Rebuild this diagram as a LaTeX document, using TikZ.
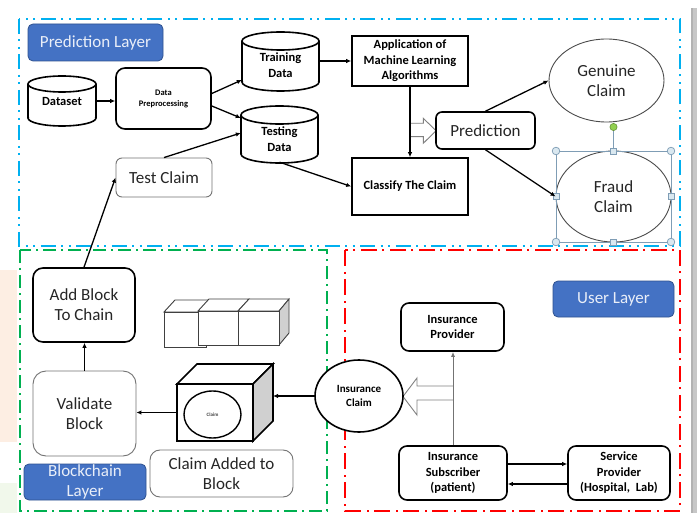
\documentclass[tikz,border=0pt]{standalone}
\usepackage{fontspec}
\setmainfont{Carlito}
\usetikzlibrary{arrows.meta,shapes.geometric,calc}
\definecolor{predblue}{HTML}{00B0F0}
\definecolor{chaingreen}{HTML}{00B050}
\definecolor{userred}{HTML}{FF0000}
\definecolor{labelblue}{HTML}{4472C4}
\definecolor{labeledge}{HTML}{2F528F}
\definecolor{handlefill}{HTML}{DAE8F0}
\definecolor{handleedge}{HTML}{7F9DB5}
\definecolor{sidegray}{HTML}{D0D0D0}
\definecolor{blobor}{HTML}{FDEEE3}
\definecolor{blobgr}{HTML}{F1F8EB}
\definecolor{handlegreen}{HTML}{92D050}
\tikzset{
  frame/.style={line width=1.8pt},
  dashdotdot/.style={dash pattern=on 15pt off 5.5pt on 2pt off 5.5pt on 2pt off 5.5pt},
  reddashdot/.style={dash pattern=on 16pt off 6pt on 2pt off 5pt},
  greendashdot/.style={dash pattern=on 13pt off 5pt on 2pt off 5pt},
  thickbox/.style={draw=black, line width=1.6pt, fill=white, align=center, inner sep=0pt},
  thinbox/.style={draw=black!55, line width=0.9pt, fill=white, rounded corners=10pt, align=center, inner sep=0pt, text=black!85, font=\fontsize{17}{20}\selectfont},
  layerlabel/.style={fill=labelblue, draw=labeledge, line width=0.8pt, rounded corners=5pt, text=white!88!labelblue, font=\fontsize{17}{20}\selectfont, align=center, inner sep=0pt},
  bigtext/.style={font=\fontsize{17}{20}\selectfont, text=black!85},
  boldtext/.style={font=\fontsize{12.5}{15.5}\selectfont\bfseries},
  plain/.style={inner sep=0pt, align=center},
  arr/.style={line width=1.3pt, -{Latex[length=5pt,width=4.5pt]}},
  cylline/.style={line width=1.6pt},
  hollow/.style={draw=black!50, line width=0.9pt, fill=white},
  handle/.style={draw=handleedge, line width=0.7pt},
}
\newcommand\drawcyl[5]{%
  \pgfmathsetmacro\cylcx{(#1+#3)/2}%
  \pgfmathsetmacro\cylrx{(#3-#1)/2}%
  \fill[white] (#1,#2+#5) rectangle (#3,#4-#5);
  \fill[white] (\cylcx,#4-#5) ellipse[x radius=\cylrx pt, y radius=#5 pt];
  \begin{scope}
    \clip (#1-3,#4-#5) rectangle (#3+3,#4+3);
    \draw[cylline] (\cylcx,#4-#5) ellipse[x radius=\cylrx pt, y radius=#5 pt];
  \end{scope}
  \draw[cylline] (#1,#2+#5) -- (#1,#4-#5) (#3,#2+#5) -- (#3,#4-#5);
  \draw[cylline, fill=white] (\cylcx,#2+#5) ellipse[x radius=\cylrx pt, y radius=#5 pt];
}
\begin{document}
\begin{tikzpicture}[x=1pt,y=-1pt]
\useasboundingbox (0,0) rectangle (699,513);
\fill[white] (0,0) rectangle (699,513);
% background artefacts
\fill[blobor] (0,270) rectangle (17,442);
\fill[blobgr] (0,483) rectangle (17,513);
\fill[black!22] (691,8) rectangle (697,513);
\fill[black!30] (691,8) rectangle (692.5,513);

% layer frames
\draw[frame, predblue, dashdotdot] (19,19) rectangle (680,246);
\draw[frame, chaingreen, greendashdot] (20,250) rectangle (327,511);
\draw[frame, userred, reddashdot] (345,250) rectangle (680,511);

% ---------------- Prediction layer ----------------
\node[layerlabel, minimum width=135pt, minimum height=37pt] (predlabel) at (95.5,42.5) {Prediction Layer};

\drawcyl{28}{76}{96}{126}{8}
\node[plain, boldtext, minimum width=68pt, minimum height=36pt] (dataset) at (62,101) {Dataset};

\node[thickbox, rounded corners=9pt, minimum width=95pt, minimum height=61pt,
      font=\fontsize{8.5}{11}\selectfont\bfseries] (prep) at (163.5,98.5) {Data\\Preprocessing};

\drawcyl{242}{32}{319}{91}{9}
\node[plain, boldtext, minimum width=77pt, minimum height=40pt] (training) at (280.5,65) {Training\\Data};

\drawcyl{241}{106}{318}{163}{9}
\node[plain, boldtext, minimum width=77pt, minimum height=40pt] (testing) at (279.5,139) {Testing\\Data};

\node[thinbox, rounded corners=6pt, minimum width=96pt, minimum height=39pt] (testclaim) at (164,177.5) {Test Claim};

\node[thickbox, boldtext, minimum width=116pt, minimum height=50pt] (app) at (410,61) {Application of\\Machine Learning\\Algorithms};
\node[thickbox, boldtext, minimum width=116pt, minimum height=57pt] (classify) at (410,186.5) {Classify The Claim};

% hollow arrow into Prediction
\draw[hollow] (411,123.3) -- (423.3,123.3) -- (423.3,118.3) -- (436,130.7) -- (423.3,143.3) -- (423.3,136.7) -- (411,136.7);

\node[thickbox, bigtext, rounded corners=6pt, minimum width=99pt, minimum height=37pt] (prediction) at (485.5,130.5) {Prediction};

\node[ellipse, draw=black!70, line width=0.9pt, fill=white, bigtext, align=center, inner sep=0pt,
      minimum width=115pt, minimum height=83pt] (genuine) at (606.5,80.5) {Genuine\\Claim};
\node[ellipse, draw=black!70, line width=0.9pt, fill=white, bigtext, align=center, inner sep=0pt,
      minimum width=115pt, minimum height=91pt] (fraud) at (613.5,196.5) {Fraud\\Claim};

% selection handles around Fraud Claim
\draw[handle] (556,151) rectangle (671,242);
\draw[handle] (613.5,127) -- (613.5,151);
\foreach \hx/\hy in {556/151,671/151,556/242,671/242}
  \draw[handle, fill=handlefill] (\hx,\hy) circle[radius=3.8pt];
\foreach \hx/\hy in {613.5/151,556/196.5,671/196.5,613.5/242}
  \draw[handle, fill=handlefill] (\hx-3,\hy-3) rectangle (\hx+3,\hy+3);
\draw[draw=handlegreen!70!black, line width=0.6pt, fill=handlegreen] (613.5,127) circle[radius=3.6pt];

% prediction-layer connectors
\draw[arr] (dataset.east) -- (dataset.east -| prep.west);
\draw[arr] ([yshift=5pt]prep.east) -- ([yshift=-15pt]training.west);
\draw[arr] ([yshift=-7.5pt]prep.east) -- ([yshift=21pt]testing.west);
\draw[arr] (testclaim.north) -- ([yshift=6pt]testing.west);
\draw[arr] ([yshift=4pt]training.east) -- (app.west);
\draw[arr] ([yshift=-3pt]testing.south) -- (classify.west);
\draw[arr] (app.south) -- (classify.north);
\draw[arr] (prediction.north) -- (genuine.west);
\draw[arr] (prediction.south) -- (fraud.west);

% ---------------- Blockchain layer ----------------
\node[thickbox, bigtext, rounded corners=10pt, minimum width=102pt, minimum height=74pt] (addblock) at (84,305) {Add Block\\To Chain};
\node[thinbox, rounded corners=13pt, minimum width=103pt, minimum height=85pt] (validate) at (84.5,413.5) {Validate\\Block};
\node[layerlabel, minimum width=122pt, minimum height=36pt] (bclabel) at (85,482) {Blockchain\\Layer};
\node[thinbox, minimum width=143pt, minimum height=47pt] (claimadded) at (221.5,473.5) {Claim Added to\\Block};

% chain of small blocks
\begin{scope}[draw=black!75, line width=0.9pt]
  \filldraw[fill=white] (164,312) -- (175,300) -- (217,300) -- (206,312) -- cycle;
  \filldraw[fill=white] (164,312) rectangle (206,347);
  \filldraw[fill=white] (198,311) -- (209,299) -- (249,299) -- (238,311) -- cycle;
  \filldraw[fill=white] (198,311) rectangle (238,345);
  \filldraw[fill=white] (238,311) -- (249,299) -- (289,299) -- (279,311) -- cycle;
  \filldraw[fill=sidegray] (279,311) -- (289,299) -- (289,333) -- (279,345) -- cycle;
  \filldraw[fill=white] (238,311) rectangle (279,345);
\end{scope}

% big block holding the claim
\filldraw[fill=white, line width=1.6pt, line join=miter] (177,384) -- (197,364) -- (273,364) -- (253,384) -- cycle;
\filldraw[fill=sidegray, line width=1.6pt, line join=miter] (253,384) -- (273,364) -- (273,421) -- (253,441) -- cycle;
\node[thickbox, minimum width=76pt, minimum height=57pt] (cube) at (215,412.5) {};
\coordinate (cubeside) at (273,396);
\node[ellipse, draw, line width=1.4pt, fill=white, inner sep=0pt, minimum width=57pt, minimum height=47pt,
      font=\fontsize{5}{6}\selectfont\bfseries, text=black!75] (claimell) at (212.5,414.5) {Claim};

\draw[arr] (validate.north) -- (validate.north |- addblock.south);
\draw[arr] (addblock.north) -- (testclaim.west);
\draw[arr] (cube.west) -- (validate.east |- cube.west);

% ---------------- User layer ----------------
\node[layerlabel, minimum width=121pt, minimum height=36pt] (userlabel) at (613.5,299) {User Layer};
\node[thickbox, boldtext, rounded corners=8pt, minimum width=103pt, minimum height=48pt] (provider) at (452.5,327) {Insurance\\Provider};
\node[thickbox, boldtext, rounded corners=8pt, minimum width=108pt, minimum height=54pt] (subscriber) at (453,473) {Insurance\\Subscriber\\(patient)};
\node[thickbox, boldtext, rounded corners=8pt, minimum width=102pt, minimum height=54pt] (service) at (619,473) {Service\\Provider\\(Hospital,~ Lab)};

\draw[hollow] (453,386) -- (417,386) -- (417,378) -- (403,396.5) -- (417,415) -- (417,400) -- (453,400);
\node[ellipse, draw, line width=1.6pt, fill=white, inner sep=0pt, minimum width=88pt, minimum height=72pt,
      font=\fontsize{11}{14}\selectfont\bfseries, align=center] (insclaim) at (359,396) {Insurance\\Claim};

\draw[line width=1pt, draw=black!55, -{Latex[length=5pt,width=4pt]}] (subscriber.north) -- (subscriber.north |- provider.south);
\draw[arr] ([yshift=9pt]subscriber.east) -- ([yshift=9pt]service.west);
\draw[arr] ([yshift=-11pt]service.west) -- ([yshift=-11pt]subscriber.east);
\draw[arr] (insclaim.west) -- (cubeside);
\end{tikzpicture}
\end{document}
